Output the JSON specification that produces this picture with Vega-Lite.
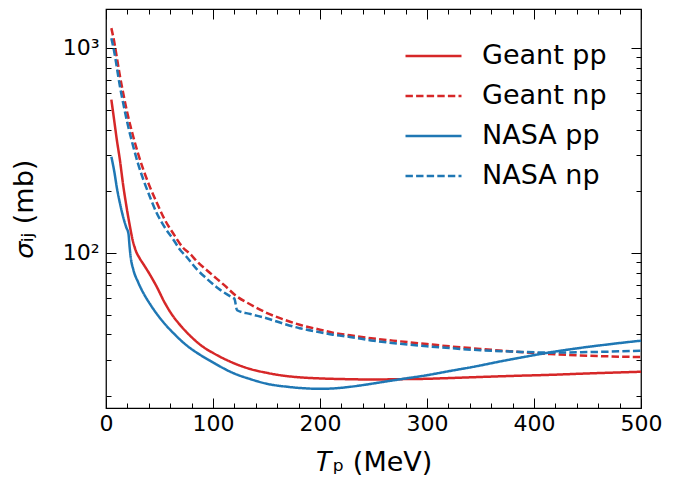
{
  "$schema": "https://vega.github.io/schema/vega-lite/v6.json",
  "autosize": {"type": "none"},
  "padding": {"left": 106, "top": 9, "right": 48, "bottom": 73},
  "width": 535,
  "height": 399,
  "config": {
    "font": "DejaVu Sans",
    "view": {"stroke": "black", "strokeWidth": 1.25},
    "axis": {
      "domain": false,
      "grid": false,
      "tickColor": "black",
      "tickWidth": 1,
      "labelColor": "black",
      "titleColor": "black",
      "labelFont": "DejaVu Sans",
      "titleFont": "DejaVu Sans",
      "labelFontSize": 22,
      "titleFontSize": 27,
      "titleFontWeight": "normal",
      "labelFlush": false,
      "labelOverlap": false
    }
  },
  "data": {
    "values": [
      {"T": 5, "sigma": 560, "series": "Geant pp"},
      {"T": 8, "sigma": 430, "series": "Geant pp"},
      {"T": 10, "sigma": 360, "series": "Geant pp"},
      {"T": 13, "sigma": 284, "series": "Geant pp"},
      {"T": 16, "sigma": 215, "series": "Geant pp"},
      {"T": 19, "sigma": 170, "series": "Geant pp"},
      {"T": 22, "sigma": 138, "series": "Geant pp"},
      {"T": 25, "sigma": 115, "series": "Geant pp"},
      {"T": 28, "sigma": 102, "series": "Geant pp"},
      {"T": 31, "sigma": 95, "series": "Geant pp"},
      {"T": 35, "sigma": 88, "series": "Geant pp"},
      {"T": 40, "sigma": 80, "series": "Geant pp"},
      {"T": 47, "sigma": 69, "series": "Geant pp"},
      {"T": 55, "sigma": 57, "series": "Geant pp"},
      {"T": 60, "sigma": 51.5, "series": "Geant pp"},
      {"T": 70, "sigma": 44, "series": "Geant pp"},
      {"T": 80, "sigma": 38.8, "series": "Geant pp"},
      {"T": 90, "sigma": 35, "series": "Geant pp"},
      {"T": 100, "sigma": 32.5, "series": "Geant pp"},
      {"T": 110, "sigma": 30.5, "series": "Geant pp"},
      {"T": 122, "sigma": 28.6, "series": "Geant pp"},
      {"T": 135, "sigma": 27.1, "series": "Geant pp"},
      {"T": 150, "sigma": 26.0, "series": "Geant pp"},
      {"T": 165, "sigma": 25.2, "series": "Geant pp"},
      {"T": 181, "sigma": 24.7, "series": "Geant pp"},
      {"T": 200, "sigma": 24.4, "series": "Geant pp"},
      {"T": 225, "sigma": 24.2, "series": "Geant pp"},
      {"T": 250, "sigma": 24.1, "series": "Geant pp"},
      {"T": 275, "sigma": 24.2, "series": "Geant pp"},
      {"T": 300, "sigma": 24.3, "series": "Geant pp"},
      {"T": 321, "sigma": 24.5, "series": "Geant pp"},
      {"T": 350, "sigma": 24.8, "series": "Geant pp"},
      {"T": 380, "sigma": 25.1, "series": "Geant pp"},
      {"T": 415, "sigma": 25.4, "series": "Geant pp"},
      {"T": 450, "sigma": 25.8, "series": "Geant pp"},
      {"T": 500, "sigma": 26.3, "series": "Geant pp"},

      {"T": 5, "sigma": 1250, "series": "Geant np"},
      {"T": 8, "sigma": 1050, "series": "Geant np"},
      {"T": 10, "sigma": 908, "series": "Geant np"},
      {"T": 13, "sigma": 730, "series": "Geant np"},
      {"T": 16, "sigma": 605, "series": "Geant np"},
      {"T": 20, "sigma": 480, "series": "Geant np"},
      {"T": 25.5, "sigma": 369, "series": "Geant np"},
      {"T": 30, "sigma": 305, "series": "Geant np"},
      {"T": 35, "sigma": 254, "series": "Geant np"},
      {"T": 41, "sigma": 210, "series": "Geant np"},
      {"T": 47, "sigma": 178, "series": "Geant np"},
      {"T": 55, "sigma": 145, "series": "Geant np"},
      {"T": 63, "sigma": 124, "series": "Geant np"},
      {"T": 72, "sigma": 106, "series": "Geant np"},
      {"T": 78.5, "sigma": 99, "series": "Geant np"},
      {"T": 85, "sigma": 91, "series": "Geant np"},
      {"T": 97, "sigma": 80, "series": "Geant np"},
      {"T": 110, "sigma": 70, "series": "Geant np"},
      {"T": 122, "sigma": 61.5, "series": "Geant np"},
      {"T": 135, "sigma": 56, "series": "Geant np"},
      {"T": 150, "sigma": 51, "series": "Geant np"},
      {"T": 165, "sigma": 47.5, "series": "Geant np"},
      {"T": 181, "sigma": 44.6, "series": "Geant np"},
      {"T": 200, "sigma": 42.2, "series": "Geant np"},
      {"T": 212, "sigma": 40.8, "series": "Geant np"},
      {"T": 228, "sigma": 39.6, "series": "Geant np"},
      {"T": 250, "sigma": 38.2, "series": "Geant np"},
      {"T": 275, "sigma": 37.0, "series": "Geant np"},
      {"T": 300, "sigma": 35.9, "series": "Geant np"},
      {"T": 321, "sigma": 35.0, "series": "Geant np"},
      {"T": 350, "sigma": 34.0, "series": "Geant np"},
      {"T": 380, "sigma": 33.0, "series": "Geant np"},
      {"T": 415, "sigma": 32.1, "series": "Geant np"},
      {"T": 450, "sigma": 31.5, "series": "Geant np"},
      {"T": 500, "sigma": 31.0, "series": "Geant np"},

      {"T": 5, "sigma": 295, "series": "NASA pp"},
      {"T": 8, "sigma": 245, "series": "NASA pp"},
      {"T": 10, "sigma": 210, "series": "NASA pp"},
      {"T": 13, "sigma": 175, "series": "NASA pp"},
      {"T": 16, "sigma": 150, "series": "NASA pp"},
      {"T": 19, "sigma": 133, "series": "NASA pp"},
      {"T": 21, "sigma": 124, "series": "NASA pp"},
      {"T": 22, "sigma": 108, "series": "NASA pp"},
      {"T": 23, "sigma": 96, "series": "NASA pp"},
      {"T": 25.5, "sigma": 83, "series": "NASA pp"},
      {"T": 30, "sigma": 72, "series": "NASA pp"},
      {"T": 35, "sigma": 63.6, "series": "NASA pp"},
      {"T": 40, "sigma": 57.5, "series": "NASA pp"},
      {"T": 47, "sigma": 50.8, "series": "NASA pp"},
      {"T": 55, "sigma": 45, "series": "NASA pp"},
      {"T": 63, "sigma": 40.6, "series": "NASA pp"},
      {"T": 75, "sigma": 35.5, "series": "NASA pp"},
      {"T": 88, "sigma": 31.8, "series": "NASA pp"},
      {"T": 100, "sigma": 29.2, "series": "NASA pp"},
      {"T": 119, "sigma": 25.9, "series": "NASA pp"},
      {"T": 135, "sigma": 24.2, "series": "NASA pp"},
      {"T": 150, "sigma": 23.0, "series": "NASA pp"},
      {"T": 170, "sigma": 22.2, "series": "NASA pp"},
      {"T": 188, "sigma": 21.8, "series": "NASA pp"},
      {"T": 200, "sigma": 21.7, "series": "NASA pp"},
      {"T": 212, "sigma": 21.8, "series": "NASA pp"},
      {"T": 228, "sigma": 22.2, "series": "NASA pp"},
      {"T": 244, "sigma": 22.8, "series": "NASA pp"},
      {"T": 260, "sigma": 23.5, "series": "NASA pp"},
      {"T": 278, "sigma": 24.3, "series": "NASA pp"},
      {"T": 300, "sigma": 25.3, "series": "NASA pp"},
      {"T": 321, "sigma": 26.5, "series": "NASA pp"},
      {"T": 345, "sigma": 27.9, "series": "NASA pp"},
      {"T": 368, "sigma": 29.5, "series": "NASA pp"},
      {"T": 390, "sigma": 31.0, "series": "NASA pp"},
      {"T": 415, "sigma": 32.7, "series": "NASA pp"},
      {"T": 440, "sigma": 34.2, "series": "NASA pp"},
      {"T": 470, "sigma": 35.8, "series": "NASA pp"},
      {"T": 500, "sigma": 37.3, "series": "NASA pp"},

      {"T": 5, "sigma": 1115, "series": "NASA np"},
      {"T": 8, "sigma": 940, "series": "NASA np"},
      {"T": 10, "sigma": 811, "series": "NASA np"},
      {"T": 13, "sigma": 650, "series": "NASA np"},
      {"T": 16, "sigma": 540, "series": "NASA np"},
      {"T": 20, "sigma": 430, "series": "NASA np"},
      {"T": 25.5, "sigma": 330, "series": "NASA np"},
      {"T": 30, "sigma": 272, "series": "NASA np"},
      {"T": 35, "sigma": 227, "series": "NASA np"},
      {"T": 41, "sigma": 188, "series": "NASA np"},
      {"T": 47, "sigma": 158, "series": "NASA np"},
      {"T": 55, "sigma": 133, "series": "NASA np"},
      {"T": 63, "sigma": 116, "series": "NASA np"},
      {"T": 69, "sigma": 104, "series": "NASA np"},
      {"T": 75, "sigma": 96, "series": "NASA np"},
      {"T": 85, "sigma": 83, "series": "NASA np"},
      {"T": 94, "sigma": 75, "series": "NASA np"},
      {"T": 105, "sigma": 67, "series": "NASA np"},
      {"T": 119, "sigma": 60.2, "series": "NASA np"},
      {"T": 120, "sigma": 59.8, "series": "NASA np"},
      {"T": 122.5, "sigma": 52.5, "series": "NASA np"},
      {"T": 135, "sigma": 50.3, "series": "NASA np"},
      {"T": 150, "sigma": 48.0, "series": "NASA np"},
      {"T": 165, "sigma": 45.3, "series": "NASA np"},
      {"T": 181, "sigma": 42.9, "series": "NASA np"},
      {"T": 200, "sigma": 41.0, "series": "NASA np"},
      {"T": 212, "sigma": 39.9, "series": "NASA np"},
      {"T": 228, "sigma": 38.9, "series": "NASA np"},
      {"T": 250, "sigma": 37.3, "series": "NASA np"},
      {"T": 275, "sigma": 36.0, "series": "NASA np"},
      {"T": 300, "sigma": 35.0, "series": "NASA np"},
      {"T": 321, "sigma": 34.3, "series": "NASA np"},
      {"T": 350, "sigma": 33.5, "series": "NASA np"},
      {"T": 380, "sigma": 33.0, "series": "NASA np"},
      {"T": 415, "sigma": 32.6, "series": "NASA np"},
      {"T": 450, "sigma": 32.8, "series": "NASA np"},
      {"T": 500, "sigma": 33.3, "series": "NASA np"}
    ]
  },
  "resolve": {"axis": {"x": "independent", "y": "independent"}},
  "layer": [
    {
      "mark": {"type": "line", "strokeWidth": 2.5, "interpolate": "monotone"},
      "encoding": {
        "x": {
          "field": "T", "type": "quantitative",
          "scale": {"domain": [0, 500], "nice": false, "zero": false},
          "axis": {"orient": "bottom", "values": [0, 100, 200, 300, 400, 500], "tickSize": -10, "labelPadding": 15, "title": "𝑇ₚ (MeV)", "titlePadding": 15}
        },
        "y": {
          "field": "sigma", "type": "quantitative",
          "scale": {"type": "log", "domain": [17.5, 1550], "nice": false},
          "axis": {"orient": "left", "values": [100, 1000], "labelExpr": "datum.value == 100 ? '10²' : '10³'", "tickSize": -10, "labelPadding": 17, "labelBaseline": "middle", "title": "𝜎ᵢⱼ (mb)", "titlePadding": 24}
        },
        "color": {
          "field": "series", "type": "nominal",
          "scale": {"domain": ["Geant pp", "Geant np", "NASA pp", "NASA np"], "range": ["#d62728", "#d62728", "#1f77b4", "#1f77b4"]},
          "legend": {
            "orient": "none", "legendX": 298, "legendY": 27, "title": null,
            "symbolType": "stroke", "symbolSize": 3136, "symbolStrokeWidth": 2.5,
            "labelFontSize": 27, "labelFont": "DejaVu Sans", "labelColor": "black",
            "labelOffset": 19, "rowPadding": 0, "clipHeight": 40, "padding": 0
          }
        },
        "strokeDash": {
          "field": "series", "type": "nominal",
          "scale": {"domain": ["Geant pp", "Geant np", "NASA pp", "NASA np"], "range": [[1, 0], [7.4, 3.2], [1, 0], [7.4, 3.2]]}
        }
      }
    },
    {
      "mark": {"type": "point", "opacity": 0},
      "encoding": {
        "x": {
          "field": "T", "type": "quantitative",
          "scale": {"domain": [0, 500], "nice": false, "zero": false},
          "axis": {"orient": "bottom", "values": [20, 40, 60, 80, 120, 140, 160, 180, 220, 240, 260, 280, 320, 340, 360, 380, 420, 440, 460, 480], "tickSize": -5, "labels": false, "title": null}
        },
        "y": {
          "field": "sigma", "type": "quantitative",
          "scale": {"type": "log", "domain": [17.5, 1550], "nice": false},
          "axis": {"orient": "left", "values": [20, 30, 40, 50, 60, 70, 80, 90, 200, 300, 400, 500, 600, 700, 800, 900], "tickSize": -5, "labels": false, "title": null}
        }
      }
    },
    {
      "mark": {"type": "point", "opacity": 0},
      "encoding": {
        "x": {
          "field": "T", "type": "quantitative",
          "scale": {"domain": [0, 500], "nice": false, "zero": false},
          "axis": {"orient": "top", "values": [0, 100, 200, 300, 400, 500], "tickSize": -10, "labels": false, "title": null}
        },
        "y": {
          "field": "sigma", "type": "quantitative",
          "scale": {"type": "log", "domain": [17.5, 1550], "nice": false},
          "axis": {"orient": "right", "values": [100, 1000], "tickSize": -10, "labels": false, "title": null}
        }
      }
    },
    {
      "mark": {"type": "point", "opacity": 0},
      "encoding": {
        "x": {
          "field": "T", "type": "quantitative",
          "scale": {"domain": [0, 500], "nice": false, "zero": false},
          "axis": {"orient": "top", "values": [20, 40, 60, 80, 120, 140, 160, 180, 220, 240, 260, 280, 320, 340, 360, 380, 420, 440, 460, 480], "tickSize": -5, "labels": false, "title": null}
        },
        "y": {
          "field": "sigma", "type": "quantitative",
          "scale": {"type": "log", "domain": [17.5, 1550], "nice": false},
          "axis": {"orient": "right", "values": [20, 30, 40, 50, 60, 70, 80, 90, 200, 300, 400, 500, 600, 700, 800, 900], "tickSize": -5, "labels": false, "title": null}
        }
      }
    }
  ]
}
